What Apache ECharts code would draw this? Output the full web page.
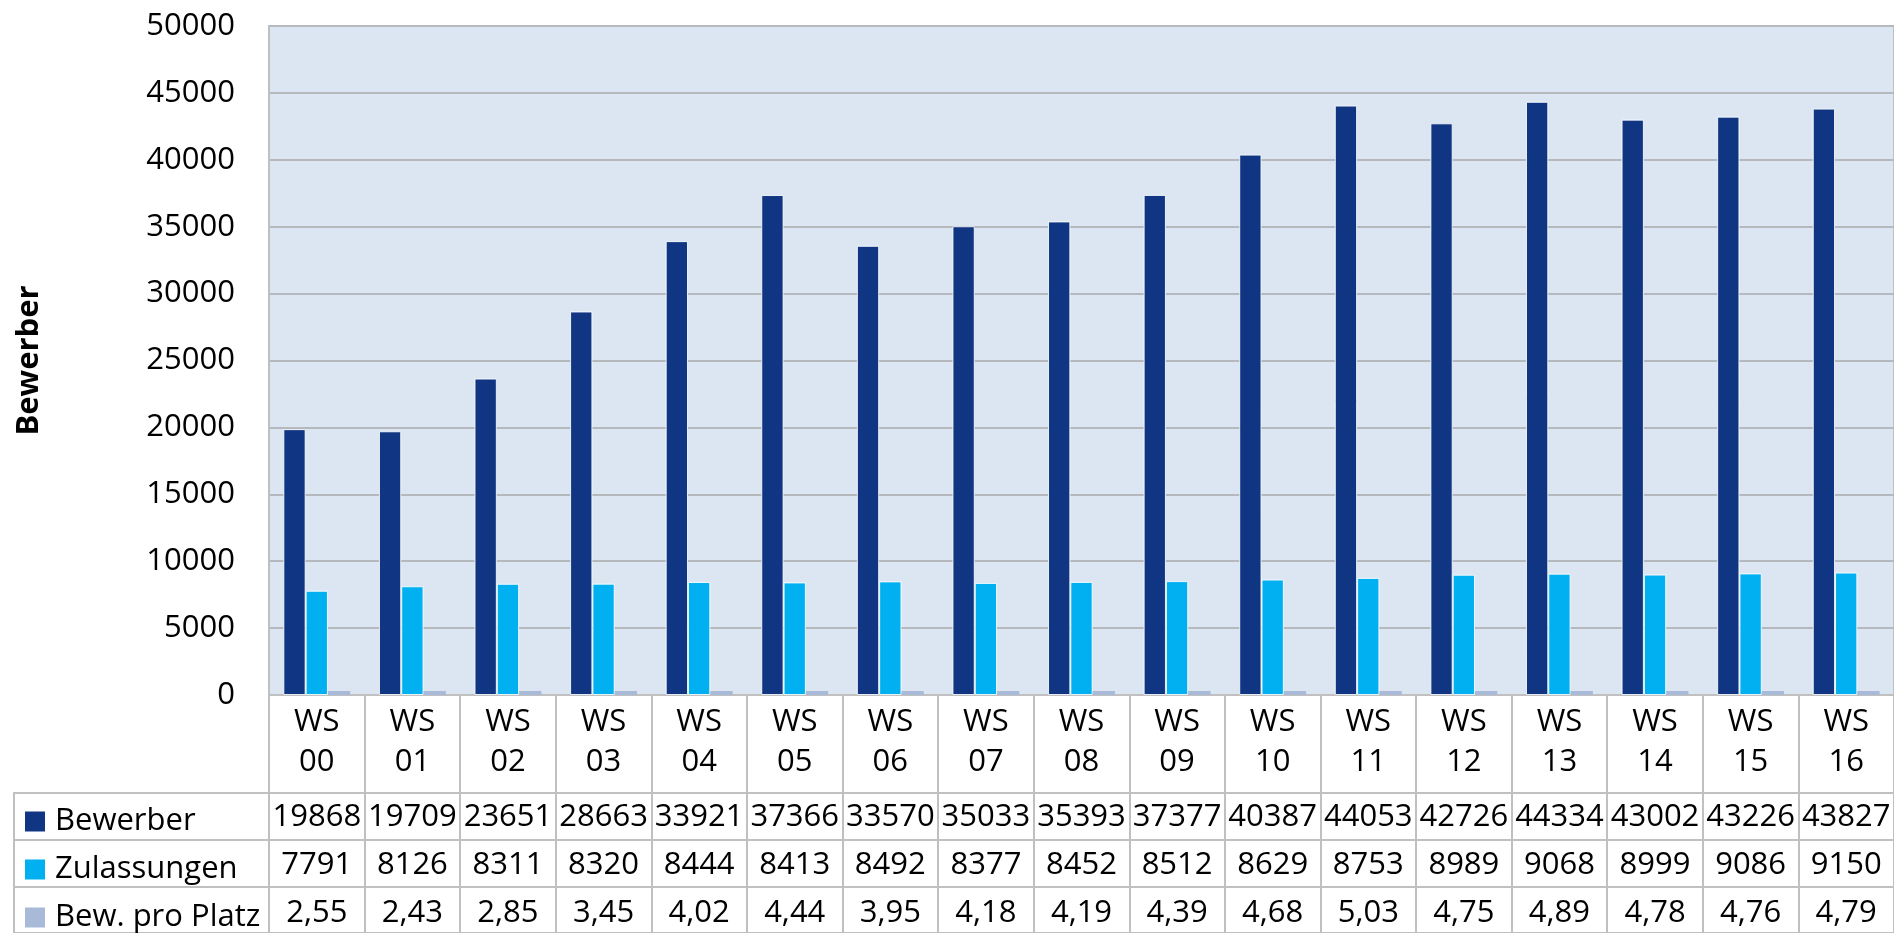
<!DOCTYPE html>
<html>
<head>
<meta charset="utf-8">
<script src="https://cdn.jsdelivr.net/npm/echarts@6/dist/echarts.min.js"></script>
<style>
html,body{margin:0;padding:0;background:#fff;}
#chart{width:1894px;height:933px;}
</style>
</head>
<body>
<div id="chart"></div>
<script>
const categories = ['WS 00','WS 01','WS 02','WS 03','WS 04','WS 05','WS 06','WS 07','WS 08','WS 09','WS 10','WS 11','WS 12','WS 13','WS 14','WS 15','WS 16'];
const bewerber = [19868,19709,23651,28663,33921,37366,33570,35033,35393,37377,40387,44053,42726,44334,43002,43226,43827];
const zulassungen = [7791,8126,8311,8320,8444,8413,8492,8377,8452,8512,8629,8753,8989,9068,8999,9086,9150];
const bewProPlatz = [2.55,2.43,2.85,3.45,4.02,4.44,3.95,4.18,4.19,4.39,4.68,5.03,4.75,4.89,4.78,4.76,4.79];
const seriesNames = ['Bewerber','Zulassungen','Bew. pro Platz'];
const seriesColors = ['#0f3583','#00b0f0','#a8bad8'];
const rowKeys = ['r1','r2','r3'];

const FONT = '"Open Sans", sans-serif';
const FS = 31;
const lineCol = '#c0c0c0';

function fmtDec(v){ return v.toFixed(2).replace('.', ','); }

function tableAxis(values, offset, fmt){
  return {
    type:'category', gridIndex:0, position:'bottom', data:categories, offset:offset,
    axisLine:{show:false}, axisTick:{show:false}, splitLine:{show:false},
    axisLabel:{interval:0, margin:0, verticalAlign:'middle', fontSize:FS, fontFamily:FONT, color:'#000',
      formatter:function(v, i){ return fmt ? fmt(values[i]) : String(values[i]); }}
  };
}

function rowLegend(i, top){
  return {
    orient:'vertical', left:25, top:top, icon:'rect', itemWidth:20, itemHeight:20, padding:0,
    data:[seriesNames[i]],
    textStyle:{fontSize:FS, fontFamily:FONT, color:'#000', padding:[0,0,0,5]},
    itemStyle:{borderWidth:0},
    selectedMode:false
  };
}

const chart = echarts.init(document.getElementById('chart'));
chart.setOption({
  animation:false,
  backgroundColor:'#ffffff',
  textStyle:{fontFamily:FONT},
  grid:[
    {left:269, top:26, width:1629, height:669, show:true, backgroundColor:'#dce6f2', borderColor:lineCol, borderWidth:2, containLabel:false},
    {left:14, top:793, width:1884, height:144, show:true, backgroundColor:'rgba(0,0,0,0)', borderColor:lineCol, borderWidth:2, containLabel:false}
  ],
  legend:[ rowLegend(0, 806), rowLegend(1, 854), rowLegend(2, 902) ],
  xAxis:[
    {type:'category', gridIndex:0, data:categories,
      axisLine:{show:true, lineStyle:{color:lineCol, width:2}},
      axisTick:{show:true, length:242, lineStyle:{color:lineCol, width:2}},
      axisLabel:{interval:0, margin:47, verticalAlign:'middle', lineHeight:40, fontSize:FS, fontFamily:FONT, color:'#000',
        formatter:function(v){ return v.replace(' ', '\n'); }},
      splitLine:{show:false}},
    tableAxis(bewerber, 122),
    tableAxis(zulassungen, 170),
    tableAxis(bewProPlatz, 218, fmtDec),
    {type:'value', gridIndex:1, show:false}
  ],
  yAxis:[
    {type:'value', gridIndex:0, min:0, max:50000, interval:5000,
      name:'Bewerber', nameLocation:'middle', nameRotate:90, nameGap:224,
      nameTextStyle:{fontSize:FS, fontWeight:'bold', fontFamily:FONT, color:'#000'},
      axisLine:{show:true, lineStyle:{color:lineCol, width:2}},
      axisTick:{show:false},
      axisLabel:{margin:34, fontSize:FS, fontFamily:FONT, color:'#000', formatter:function(v){ return String(v); }},
      splitLine:{show:true, lineStyle:{color:'#b5b8bd', width:2}}},
    {type:'category', gridIndex:1, data:rowKeys, inverse:true,
      axisLine:{show:false}, axisTick:{show:false}, axisLabel:{show:false},
      splitLine:{show:true, lineStyle:{color:lineCol, width:2}}}
  ],
  series:[
    {name:seriesNames[0], type:'bar', xAxisIndex:0, yAxisIndex:0, data:bewerber,
      barGap:'0%', barCategoryGap:'30%',
      itemStyle:{color:seriesColors[0], borderColor:'rgba(255,255,255,0.85)', borderWidth:1}},
    {name:seriesNames[1], type:'bar', xAxisIndex:0, yAxisIndex:0, data:zulassungen,
      barGap:'0%', barCategoryGap:'30%',
      itemStyle:{color:seriesColors[1], borderColor:'rgba(255,255,255,0.85)', borderWidth:1}},
    {name:seriesNames[2], type:'bar', xAxisIndex:0, yAxisIndex:0, data:bewProPlatz,
      barGap:'0%', barCategoryGap:'30%', barMinHeight:4,
      itemStyle:{color:seriesColors[2]}}
  ]
});
</script>
</body>
</html>
